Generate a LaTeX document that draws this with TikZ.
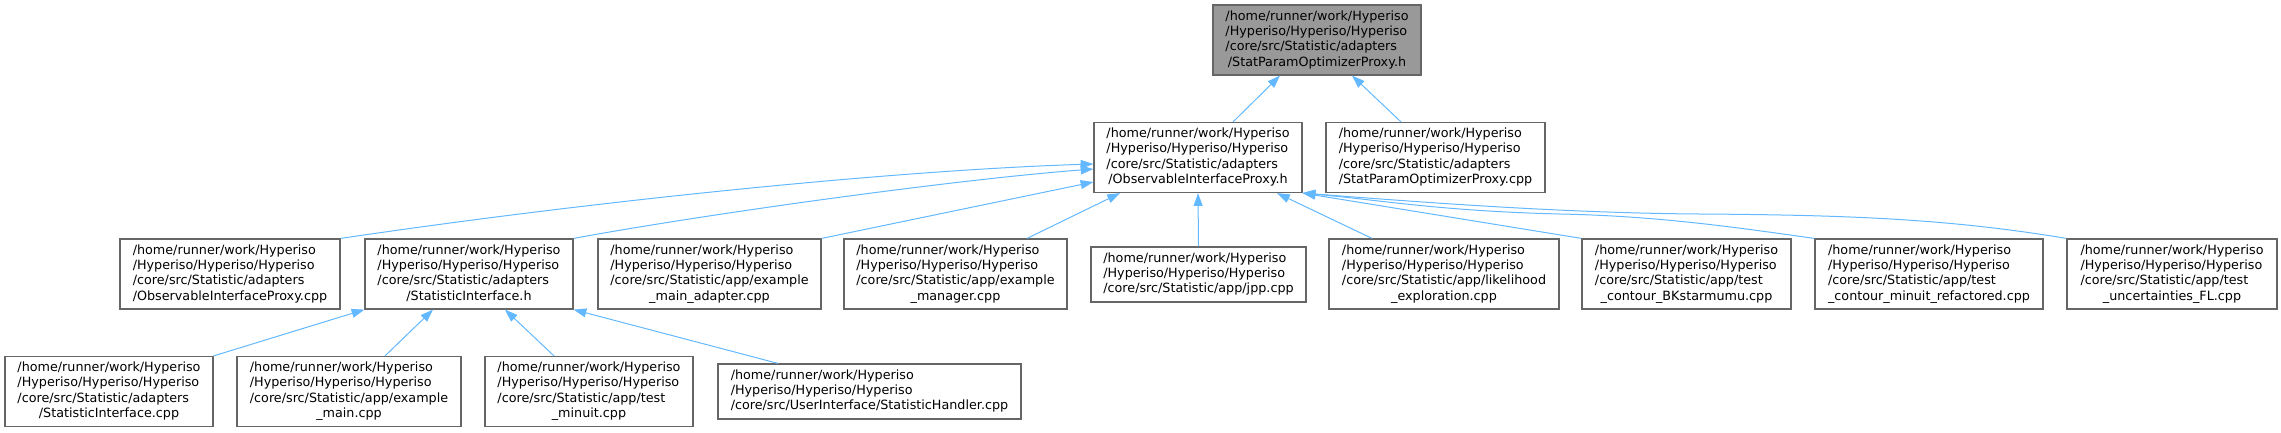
\documentclass[tikz,border=0pt]{standalone}
\usepackage{fontspec}
\setmainfont{DejaVu Sans}
\usetikzlibrary{arrows.meta}
\definecolor{edgeblue}{HTML}{63B8FF}
\definecolor{nodeborder}{HTML}{666666}
\definecolor{curfill}{HTML}{999999}
\newcommand{\nlab}[4]{\begin{tabular}{@{}l@{}}#1\\#2\\#3\\\multicolumn{1}{@{}c@{}}{#4}\end{tabular}}
\newcommand{\nlabt}[3]{\begin{tabular}{@{}l@{}}#1\\#2\\\multicolumn{1}{@{}c@{}}{#3}\end{tabular}}
\begin{document}
\begin{tikzpicture}[x=1bp,y=-1bp,
  box/.style={draw=nodeborder, line width=1.2bp, fill=white, inner sep=0pt,
    font=\fontsize{12.75bp}{15.3bp}\selectfont, minimum height=70bp},
  boxt/.style={box, minimum height=55bp},
  cur/.style={box, fill=curfill},
  edge/.style={draw=edgeblue, line width=1bp, -{Triangle[length=12.75bp,width=8.9bp]}}]
\useasboundingbox (0,0) rectangle (2281,432);
% row 1
\node[cur, minimum width=208bp] (top) at (1317,40) {\nlab{/home/runner/work/Hyperiso}{/Hyperiso/Hyperiso/Hyperiso}{/core/src/Statistic/adapters}{/StatParamOptimizerProxy.h}};
% row 2
\node[box, minimum width=208bp] (obsh) at (1198,157.5) {\nlab{/home/runner/work/Hyperiso}{/Hyperiso/Hyperiso/Hyperiso}{/core/src/Statistic/adapters}{/ObservableInterfaceProxy.h}};
\node[box, minimum width=219bp] (sppcpp) at (1435.5,157.5) {\nlab{/home/runner/work/Hyperiso}{/Hyperiso/Hyperiso/Hyperiso}{/core/src/Statistic/adapters}{/StatParamOptimizerProxy.cpp}};
% row 3
\node[box, minimum width=220bp] (obscpp) at (230,274) {\nlab{/home/runner/work/Hyperiso}{/Hyperiso/Hyperiso/Hyperiso}{/core/src/Statistic/adapters}{/ObservableInterfaceProxy.cpp}};
\node[box, minimum width=208bp] (sih) at (469,274) {\nlab{/home/runner/work/Hyperiso}{/Hyperiso/Hyperiso/Hyperiso}{/core/src/Statistic/adapters}{/StatisticInterface.h}};
\node[box, minimum width=223bp] (ema) at (709.5,274) {\nlab{/home/runner/work/Hyperiso}{/Hyperiso/Hyperiso/Hyperiso}{/core/src/Statistic/app/example}{\_main\_adapter.cpp}};
\node[box, minimum width=223bp] (em) at (955.5,274) {\nlab{/home/runner/work/Hyperiso}{/Hyperiso/Hyperiso/Hyperiso}{/core/src/Statistic/app/example}{\_manager.cpp}};
\node[boxt, minimum width=215bp] (jpp) at (1198.5,274.5) {\nlabt{/home/runner/work/Hyperiso}{/Hyperiso/Hyperiso/Hyperiso}{/core/src/Statistic/app/jpp.cpp}};
\node[box, minimum width=230bp] (lik) at (1444,274) {\nlab{/home/runner/work/Hyperiso}{/Hyperiso/Hyperiso/Hyperiso}{/core/src/Statistic/app/likelihood}{\_exploration.cpp}};
\node[box, minimum width=209bp] (bk) at (1686.5,274) {\nlab{/home/runner/work/Hyperiso}{/Hyperiso/Hyperiso/Hyperiso}{/core/src/Statistic/app/test}{\_contour\_BKstarmumu.cpp}};
\node[box, minimum width=228bp] (cmr) at (1929,274) {\nlab{/home/runner/work/Hyperiso}{/Hyperiso/Hyperiso/Hyperiso}{/core/src/Statistic/app/test}{\_contour\_minuit\_refactored.cpp}};
\node[box, minimum width=210bp] (ufl) at (2172,274) {\nlab{/home/runner/work/Hyperiso}{/Hyperiso/Hyperiso/Hyperiso}{/core/src/Statistic/app/test}{\_uncertainties\_FL.cpp}};
% row 4
\node[box, minimum width=208bp] (sicpp) at (109,391.5) {\nlab{/home/runner/work/Hyperiso}{/Hyperiso/Hyperiso/Hyperiso}{/core/src/Statistic/adapters}{/StatisticInterface.cpp}};
\node[box, minimum width=224bp] (emain) at (349,391.5) {\nlab{/home/runner/work/Hyperiso}{/Hyperiso/Hyperiso/Hyperiso}{/core/src/Statistic/app/example}{\_main.cpp}};
\node[box, minimum width=208bp] (tmin) at (589,391.5) {\nlab{/home/runner/work/Hyperiso}{/Hyperiso/Hyperiso/Hyperiso}{/core/src/Statistic/app/test}{\_minuit.cpp}};
\node[boxt, minimum width=303bp] (shandler) at (869.5,391.5) {\nlabt{/home/runner/work/Hyperiso}{/Hyperiso/Hyperiso/Hyperiso}{/core/src/UserInterface/StatisticHandler.cpp}};
% edges to top
\draw[edge] ([xshift=35bp]obsh.north) -- ([xshift=-37bp]top.south);
\draw[edge] ([xshift=-34.5bp]sppcpp.north) -- ([xshift=35bp]top.south);
% edges to obsh
\draw[edge] (obscpp.north east) .. controls (600,200) and (900,170) .. ([yshift=-6.5bp]obsh.west);
\draw[edge] (sih.north east) .. controls (700,215) and (950,180) .. ([yshift=-11.5bp]obsh.west);
\draw[edge] (ema.north east) -- ([yshift=-24.5bp]obsh.west);
\draw[edge] ([xshift=71.5bp]em.north) -- ([xshift=-78bp]obsh.south);
\draw[edge] (jpp.north) -- (obsh.south);
\draw[edge] ([xshift=-72bp]lik.north) -- ([xshift=79bp]obsh.south);
\draw[edge] (bk.north west) -- (obsh.south east);
\draw[edge] (cmr.north west) .. controls (1740,228) and (1660,216) .. (1560,214) .. controls (1440,211) and (1380,200) .. (obsh.south east);
\draw[edge] (ufl.north west) .. controls (1950,219) and (1850,215) .. (1700,214) .. controls (1560,213) and (1420,202) .. (obsh.south east);
% edges to sih
\draw[edge] (sicpp.north east) -- (sih.south west);
\draw[edge] ([xshift=36bp]emain.north) -- ([xshift=-36bp]sih.south);
\draw[edge] ([xshift=-35bp]tmin.north) -- ([xshift=36bp]sih.south);
\draw[edge] ([xshift=-91.5bp]shandler.north) -- (sih.south east);
\end{tikzpicture}
\end{document}
